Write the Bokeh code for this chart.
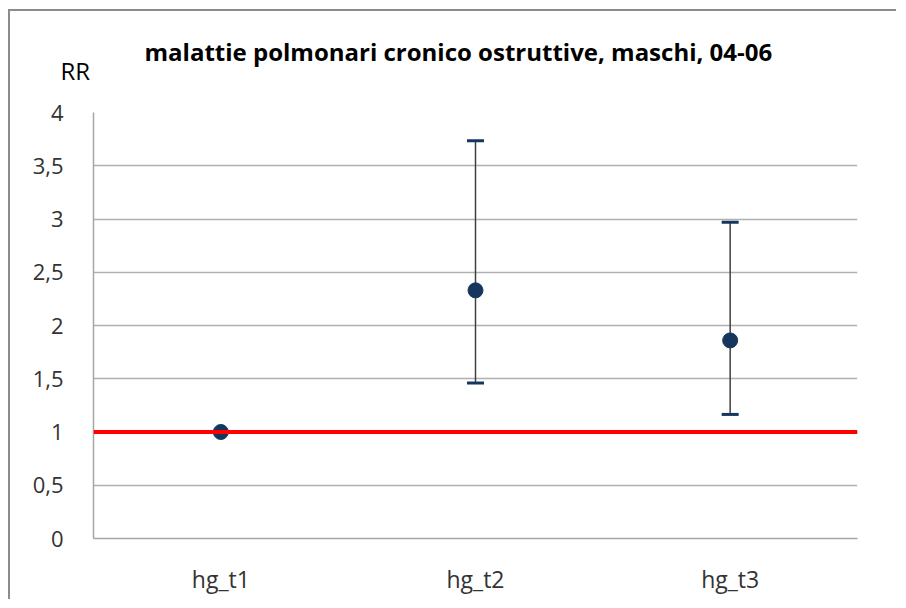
from bokeh.plotting import figure
from bokeh.models import Whisker, ColumnDataSource, Span, Title, FixedTicker, TeeHead
from bokeh.embed import file_html
from bokeh.resources import INLINE

categories = ["hg_t1", "hg_t2", "hg_t3"]
rr = [1.0, 2.33, 1.86]
ci_categories = ["hg_t2", "hg_t3"]
ci_lower = [1.46, 1.165]
ci_upper = [3.735, 2.97]
y_ticks = [0, 0.5, 1, 1.5, 2, 2.5, 3, 3.5, 4]
y_tick_labels = ["0", "0,5", "1", "1,5", "2", "2,5", "3", "3,5", "4"]
reference_value = 1.0
title_text = "malattie polmonari cronico ostruttive, maschi, 04-06"
y_label = "RR"

FONT = "Open Sans"
NAVY = "#17365D"

p = figure(x_range=categories, y_range=(0, 4), width=888, height=590,
           output_backend="svg", toolbar_location=None,
           min_border_left=83, min_border_top=101, min_border_right=41, min_border_bottom=63)
p.styles = {"border-left": "2px solid #8c8c8c", "border-top": "2px solid #8c8c8c",
            "margin-left": "8px", "margin-top": "9px"}
p.outline_line_color = None
p.background_fill_color = "white"
p.border_fill_color = "white"

p.xgrid.grid_line_color = None
p.ygrid.grid_line_color = "#b0b0b0"
p.ygrid.grid_line_width = 1.5
p.yaxis.ticker = FixedTicker(ticks=y_ticks)
p.yaxis.major_label_overrides = {t: l for t, l in zip(y_ticks, y_tick_labels)}
for ax in (p.xaxis, p.yaxis):
    ax.axis_line_color = "#a6a6a6"
    ax.axis_line_width = 1.5
    ax.major_tick_line_color = None
    ax.minor_tick_line_color = None
    ax.major_label_text_font = FONT
    ax.major_label_text_font_size = "22px"
    ax.major_label_text_color = "#333333"
p.yaxis.major_label_standoff = 24
p.xaxis.major_label_standoff = 18
p.xaxis.major_label_text_font_size = "23px"

src = ColumnDataSource(dict(x=ci_categories, lo=ci_lower, hi=ci_upper))
w = Whisker(base="x", lower="lo", upper="hi", source=src,
            line_color="#404040", line_width=1.5,
            upper_head=TeeHead(size=17, line_color=NAVY, line_width=3),
            lower_head=TeeHead(size=17, line_color=NAVY, line_width=3))
p.add_layout(w)

p.scatter(x=categories, y=rr, size=15, marker="circle", fill_color=NAVY, line_color=NAVY)

p.add_layout(Span(location=reference_value, dimension="width", line_color="#ff0000", line_width=4))

p.add_layout(Title(text=y_label, align="left", offset=-33, standoff=52,
                   text_font=FONT, text_font_size="24px", text_font_style="normal",
                   text_color="#000000"), "above")
p.add_layout(Title(text=title_text, align="left", offset=51, standoff=-84,
                   text_font=FONT, text_font_size="24px", text_font_style="bold",
                   text_color="#000000"), "above")

open("out.html", "w").write(file_html(p, INLINE))
